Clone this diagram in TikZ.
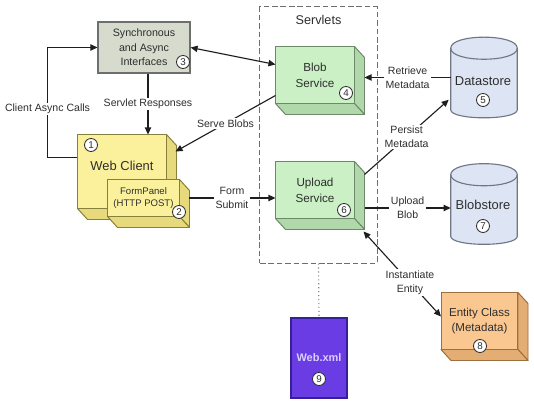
\documentclass[tikz,border=0pt]{standalone}
\usepackage{fontspec}
\setmainfont{Liberation Sans}
\usepackage{tikz}
\usetikzlibrary{arrows.meta, calc}

\definecolor{ifacefill}{HTML}{D7DBCD}
\definecolor{ifaceline}{HTML}{6E6E6E}
\definecolor{clientfront}{HTML}{FBF19C}
\definecolor{clientside}{HTML}{E6DA7C}
\definecolor{clientline}{HTML}{87803C}
\definecolor{servfront}{HTML}{CBF0C5}
\definecolor{servside}{HTML}{B0D8AA}
\definecolor{servline}{HTML}{6C8A68}
\definecolor{storefill}{HTML}{DDE5F4}
\definecolor{storeline}{HTML}{6F7785}
\definecolor{entfront}{HTML}{FBC790}
\definecolor{entside}{HTML}{E4AD74}
\definecolor{entline}{HTML}{9C703E}
\definecolor{xmlfill}{HTML}{6A3DE4}
\definecolor{xmlline}{HTML}{35209A}
\definecolor{xmltext}{HTML}{DCCFFF}
\definecolor{wire}{HTML}{1E1E1E}
\definecolor{ink}{HTML}{2E2E2E}

% right and bottom faces of a box node
\newcommand{\boxsides}[3]{%
  \filldraw[fill=#2, draw=#3, line width=0.7pt, line join=round]
    (#1.north east) -- ++(10,11) -- ($(#1.south east)+(10,11)$) -- (#1.south east) -- cycle;
  \filldraw[fill=#2, draw=#3, line width=0.7pt, line join=round]
    (#1.south west) -- ++(10,11) -- ($(#1.south east)+(10,11)$) -- (#1.south east) -- cycle;
}

% drum outline round an empty node
\newcommand{\drumshape}[1]{%
  \filldraw[fill=storefill, draw=storeline, line width=0.8pt]
    ($(#1.north west)+(0,11)$)
    .. controls ($(#1.north west)+(0,-3.7)$) and ($(#1.north east)+(0,-3.7)$) .. ($(#1.north east)+(0,11)$)
    -- ($(#1.south east)+(0,-8)$)
    .. controls ($(#1.south east)+(0,2.7)$) and ($(#1.south west)+(0,2.7)$) .. ($(#1.south west)+(0,-8)$)
    -- cycle;
  \draw[storeline, line width=0.8pt]
    ($(#1.north west)+(0,11)$)
    .. controls ($(#1.north west)+(0,25.7)$) and ($(#1.north east)+(0,25.7)$) .. ($(#1.north east)+(0,11)$);
}

\begin{document}
\begin{tikzpicture}[x=0.025cm, y=-0.025cm,
  iface/.style={draw=ifaceline, fill=ifacefill, line width=0.8pt,
                minimum width=2.3cm, minimum height=1.275cm,
                align=center, text=ink, font=\fontsize{7.6}{10.3}\selectfont},
  cube/.style={line width=0.7pt, align=center, text=ink, inner sep=1pt},
  drum/.style={minimum width=1.65cm, minimum height=2cm, inner sep=0pt},
  lbl/.style={fill=white, inner sep=1pt, align=center, text=ink,
              font=\fontsize{7.5}{9.9}\selectfont},
  numc/.style={circle, draw=ink, fill=white, line width=0.6pt,
               minimum size=0.325cm, inner sep=0pt, text=ink,
               font=\fontsize{7}{7}\selectfont},
  arr/.style={-{Triangle[length=5pt, width=4.5pt]}, wire, line width=0.8pt},
  darr/.style={{Triangle[length=5pt, width=4.5pt]}-{Triangle[length=5pt, width=4.5pt]},
               wire, line width=0.8pt},
]
\fill[white] (0,0) rectangle (534,405);
\useasboundingbox (0,0) rectangle (534,405);

% servlet container
\node[draw=ink!70, dash pattern=on 4pt off 2pt, line width=0.7pt,
      minimum width=2.925cm, minimum height=6.4cm] (sv) at (318.5,135) {};
\node[text=ink, font=\fontsize{9}{9}\selectfont] (svt) at (318.5,20) {Servlets};

\node[iface] (sync) at (144,47.5) {Synchronous\\and Async\\Interfaces};

\node[cube, draw=clientline, fill=clientfront, minimum width=2.2cm, minimum height=1.825cm,
      text depth=8pt, font=\fontsize{9.2}{11}\selectfont] (wc) at (122,171.5) {Web Client};
\boxsides{wc}{clientside}{clientline}
\node[cube, draw=clientline, fill=clientfront, minimum width=1.775cm, minimum height=0.9cm,
      font=\fontsize{6.8}{8.5}\selectfont] (fp) at (143.5,198) {FormPanel\\(HTTP POST)};
\boxsides{fp}{clientside}{clientline}

\node[cube, draw=servline, fill=servfront, minimum width=1.95cm, minimum height=1.4cm,
      font=\fontsize{8.3}{11.3}\selectfont] (blob) at (315,75) {Blob\\Service};
\boxsides{blob}{servside}{servline}
\node[cube, draw=servline, fill=servfront, minimum width=1.95cm, minimum height=1.4cm,
      font=\fontsize{8.3}{11.5}\selectfont] (up) at (315,190) {Upload\\Service};
\boxsides{up}{servside}{servline}

\node[drum] (ds) at (484,77.5) {};
\drumshape{ds}
\node[text=ink, font=\fontsize{9.2}{11}\selectfont] (dst) at (483,81) {Datastore};
\node[drum] (bs) at (484,204) {};
\drumshape{bs}
\node[text=ink, font=\fontsize{9.2}{11}\selectfont] (bst) at (483,205) {Blobstore};

\node[cube, draw=entline, fill=entfront, minimum width=1.9cm, minimum height=1.4cm,
      font=\fontsize{8.2}{10.6}\selectfont] (ent) at (479.5,321) {Entity Class\\(Metadata)};
\boxsides{ent}{entside}{entline}

\node[draw=xmlline, fill=xmlfill, line width=0.8pt, minimum width=1.4cm, minimum height=2cm,
      text=xmltext, font=\bfseries\fontsize{7.8}{9}\selectfont] (wx) at (319,358) {Web.xml};

% step numbers
\node[numc] (n1) at (91,145) {1};
\node[numc] (n2) at (179,212) {2};
\node[numc] (n3) at (183,62) {3};
\node[numc] (n4) at (346,93) {4};
\node[numc] (n5) at (483,100) {5};
\node[numc] (n6) at (344,210) {6};
\node[numc] (n7) at (483,226) {7};
\node[numc] (n8) at (480,346) {8};
\node[numc] (n9) at (319,379) {9};

% connectors
\draw[arr] ($(wc.north west)+(0,23)$) -- ++(-30,0) |- (sync.west)
  node[lbl, pos=0.22] {Client Async Calls};
\coordinate (srtop) at ($(sync.south)+(4,0)$);
\draw[arr] (srtop) -- (srtop |- wc.north) node[lbl, midway] {Servlet Responses};
\draw[darr] (sync.east) -- ($(blob.north west)+(0,18)$);
\draw[arr] ($(blob.south west)+(0,-8)$) -- ($(wc.north east)+(9,17)$)
  node[lbl, midway] {Serve Blobs};
\coordinate (blobr) at ($(blob.east)+(10,0)$);
\draw[arr] (ds.west) -- (ds.west -| blobr) node[lbl, midway] {Retrieve\\Metadata};
\draw[arr] ($(up.north east)+(10,13)$) -- ($(ds.south west)+(-2,-18)$)
  node[lbl, pos=0.5] {Persist\\Metadata};
\coordinate (fpr) at ($(fp.east)+(9,0)$);
\draw[arr] (fpr) -- (fpr -| up.west) node[lbl, midway] {Form\\Submit};
\coordinate (upr) at ($(up.east)+(10,18)$);
\draw[arr] (upr) -- (upr -| bs.west) node[lbl, midway] {Upload\\Blob};
\draw[darr] ($(up.south east)+(9,13)$) -- ($(ent.north west)+(0,24)$)
  node[lbl, pos=0.6] {Instantiate\\Entity};
\draw[ink!60, dotted, line width=0.8pt] (sv.south) -- (wx.north);
\end{tikzpicture}
\end{document}
